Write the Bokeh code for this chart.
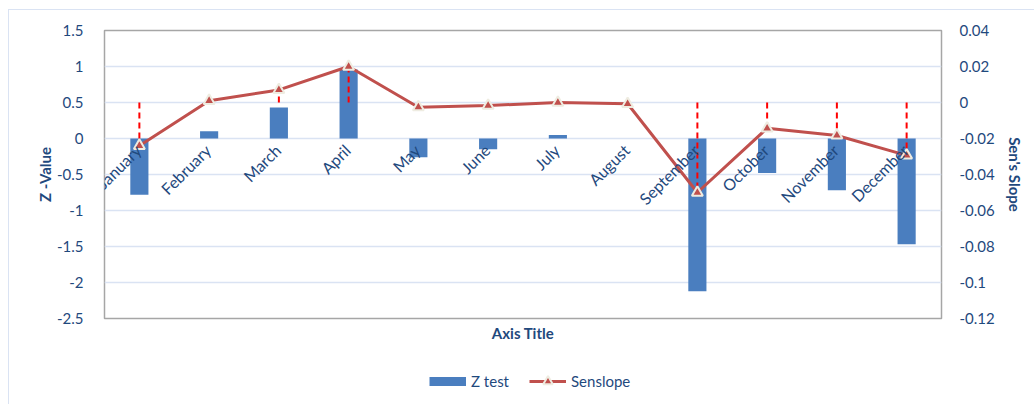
import math
from bokeh.plotting import figure
from bokeh.layouts import column
from bokeh.models import (FactorRange, Range1d, LinearAxis, FixedTicker, CustomJSTickFormatter,
                          Legend, LegendItem, ColumnDataSource, Title)
from bokeh.core.properties import value
from bokeh.embed import file_html
from bokeh.resources import INLINE

# ---- data ----
months = ["January", "February", "March", "April", "May", "June", "July",
          "August", "September", "October", "November", "December"]
z_test = [-0.78, 0.10, 0.43, 0.96, -0.26, -0.15, 0.05, 0.0, -2.12, -0.48, -0.72, -1.47]
senslope = [-0.024, 0.001, 0.007, 0.020, -0.0026, -0.0017, 0.0, -0.0007, -0.050, -0.0143, -0.0183, -0.0294]
z_ticks = [1.5, 1, 0.5, 0, -0.5, -1, -1.5, -2, -2.5]
sen_ticks = [0.04, 0.02, 0, -0.02, -0.04, -0.06, -0.08, -0.1, -0.12]

TXT = "#1F497D"
FONT = "Lato"
BAR = "#4A7EBF"
LINE = "#C0504D"

source = ColumnDataSource(dict(month=months, z=z_test, sen=senslope, zero=[0] * len(months)))

p = figure(width=1025, height=336, x_range=FactorRange(*months, range_padding=0),
           y_range=Range1d(-2.5, 1.5), output_backend="svg", toolbar_location=None,
           x_axis_location=None,
           min_border_left=95, min_border_right=93, min_border_top=20, min_border_bottom=28)
p.background_fill_color = "white"
p.border_fill_color = "white"
p.outline_line_color = "#A6A6A6"
p.outline_line_width = 1.5

p.extra_y_ranges = {"sen": Range1d(-0.12, 0.04)}

# grid
p.xgrid.grid_line_color = None
p.ygrid.ticker = FixedTicker(ticks=z_ticks)
p.ygrid.grid_line_color = "#DAE3F3"
p.ygrid.grid_line_width = 1.5

# left axis
ya = p.yaxis[0]
ya.ticker = FixedTicker(ticks=z_ticks)
ya.formatter = CustomJSTickFormatter(code="return Number(tick.toFixed(1)).toString();")
ya.axis_label = "Z -Value"

ra = LinearAxis(y_range_name="sen", ticker=FixedTicker(ticks=sen_ticks),
                formatter=CustomJSTickFormatter(code="return Number(tick.toFixed(2)).toString();"),
                axis_label="Sen's Slope")
p.add_layout(ra, "right")

for ax in [ya, ra]:
    ax.axis_line_color = None
    ax.major_tick_line_color = None
    ax.minor_tick_line_color = None
    ax.major_label_text_font = FONT
    ax.major_label_text_font_size = "15px"
    ax.major_label_text_color = TXT
    ax.axis_label_text_font = FONT
    ax.axis_label_text_font_size = "15px"
    ax.axis_label_text_font_style = "bold"
    ax.axis_label_text_color = TXT
ya.major_label_standoff = 15
ya.axis_label_standoff = 0
ra.major_label_standoff = 12
ra.axis_label_standoff = 8

# glyphs
p.vbar(x="month", top="z", bottom=0, width=0.26, source=source,
       fill_color=BAR, line_color=None)
p.line(x="month", y="sen", y_range_name="sen", source=source,
       line_color=LINE, line_width=3)
p.segment(x0="month", y0="zero", x1="month", y1="sen", y_range_name="sen", source=source,
          line_color="#FF0000", line_width=2, line_dash="6 4")
p.scatter(x="month", y="sen", y_range_name="sen", source=source, marker="triangle",
          size=11, fill_color=LINE, line_color="#EEECE1", line_width=2)

# category labels at the zero line
p.text(x="month", y="zero", text="month", source=source, angle=math.pi / 4,
       text_align="right", text_baseline="top", x_offset=-8, y_offset=2,
       text_font=value(FONT), text_font_size="16px", text_color=TXT)

# x axis title
p.add_layout(Title(text="Axis Title", align="center", standoff=6,
                   text_font=FONT, text_font_size="15px", text_font_style="bold",
                   text_color=TXT), "below")

# ---- legend strip below the chart ----
p2 = figure(width=1025, height=58, x_range=p.x_range, y_range=Range1d(0, 1),
            x_axis_location=None, y_axis_location=None, toolbar_location=None,
            output_backend="svg", min_border=0)
p2.outline_line_color = None
p2.background_fill_color = "white"
p2.border_fill_color = "white"
p2.grid.grid_line_color = None

bar_key = p2.line(x="month", y="zero", source=source, line_color=BAR,
                  line_width=9, line_cap="butt", visible=False)
sen_key_line = p2.line(x="month", y="sen", source=source, line_color=LINE,
                       line_width=3, visible=False)
sen_key_marks = p2.scatter(x="month", y="sen", source=source, marker="triangle",
                           fill_color=LINE, line_color="#EEECE1", line_width=2, visible=False)

leg = Legend(items=[LegendItem(label="Z test", renderers=[bar_key]),
                    LegendItem(label="Senslope", renderers=[sen_key_line, sen_key_marks])],
             location=(325, 11), orientation="horizontal",
             glyph_width=37, glyph_height=24, label_height=24,
             padding=0, margin=0, spacing=20, label_standoff=5,
             inactive_fill_alpha=0,
             background_fill_alpha=0, border_line_color=None,
             label_text_font=FONT, label_text_font_size="15px", label_text_color=TXT)
p2.add_layout(leg, "center")

layout = column(p, p2, margin=(9, 0, 0, 8),
                styles={"border-top": "1px solid #DAE3F3", "border-left": "1px solid #DAE3F3"})

open("out.html", "w").write(file_html(layout, INLINE))
